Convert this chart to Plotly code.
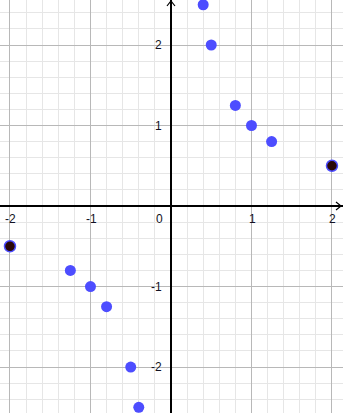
import plotly.graph_objects as go

# Data: points of y = 1/x
blue_x = [-1.25, -1.0, -0.8, -0.5, -0.4, 0.4, 0.5, 0.8, 1.0, 1.25]
blue_y = [-0.8, -1.0, -1.25, -2.0, -2.5, 2.5, 2.0, 1.25, 1.0, 0.8]
dark_x = [-2.0, 2.0]
dark_y = [-0.5, 0.5]

x_tick_vals = [-2, -1, 1, 2]
x_tick_text = ["-2", "-1", "1", "2"]
y_tick_vals = [2, 1, -1, -2]
y_tick_text = ["2", "1", "-1", "-2"]

X_RANGE = [-2.124, 2.137]
Y_RANGE = [-2.571, 2.559]

fig = go.Figure()
fig.add_trace(go.Scatter(x=blue_x, y=blue_y, mode="markers",
                         marker=dict(size=11, color="#4d4dff", line=dict(width=0)),
                         hoverinfo="skip"))
fig.add_trace(go.Scatter(x=dark_x, y=dark_y, mode="markers",
                         marker=dict(size=11, color="#2a0808",
                                     line=dict(width=1.5, color="#4d4dff")),
                         hoverinfo="skip"))

font = dict(family="Liberation Sans, Arial", size=12, color="#111122")
annotations = []
for v, t in zip(x_tick_vals, x_tick_text):
    annotations.append(dict(x=v, y=0, xref="x", yref="y", text=t, showarrow=False,
                            font=font, yanchor="top", xanchor="center",
                            xshift=1, yshift=-4))
annotations.append(dict(x=0, y=0, xref="x", yref="y", text="0", showarrow=False,
                        font=font, yanchor="top", xanchor="right", xshift=-6, yshift=-4))
for v, t in zip(y_tick_vals, y_tick_text):
    annotations.append(dict(x=0, y=v, xref="x", yref="y", text=t, showarrow=False,
                            font=font, xanchor="right", yanchor="middle", xshift=-7))

shapes = [
    # arrow heads on axes
    dict(type="path", xref="x", yref="y", xsizemode="pixel", ysizemode="pixel",
         xanchor=0, yanchor=Y_RANGE[1], path="M-4,-6 L0,-1 L4,-6",
         line=dict(color="black", width=1.2)),
    dict(type="path", xref="x", yref="y", xsizemode="pixel", ysizemode="pixel",
         xanchor=X_RANGE[1], yanchor=0, path="M-7,4 L-2,0 L-7,-4",
         line=dict(color="black", width=1.2)),
]

axis_common = dict(showgrid=True, gridcolor="#b8b8b8", gridwidth=1, dtick=1,
                   tick0=0, showticklabels=False, ticks="",
                   zeroline=True, zerolinecolor="black", zerolinewidth=1.5,
                   showline=False, fixedrange=True,
                   minor=dict(dtick=0.2, tick0=0, showgrid=True,
                              gridcolor="#e6e6e6", gridwidth=1, ticks=""))

fig.update_layout(
    width=343, height=413,
    margin=dict(l=0, r=0, t=0, b=0),
    paper_bgcolor="white", plot_bgcolor="white",
    showlegend=False,
    xaxis=dict(range=X_RANGE, **axis_common),
    yaxis=dict(range=Y_RANGE, **axis_common),
    annotations=annotations,
    shapes=shapes,
)

fig.write_html("out.html")
